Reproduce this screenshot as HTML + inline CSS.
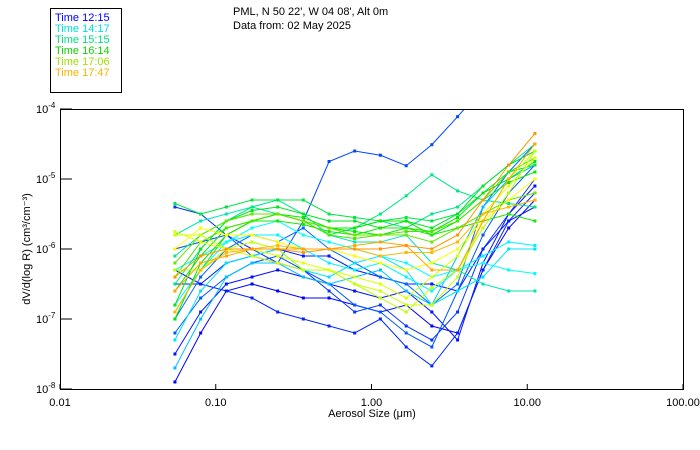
<!DOCTYPE html>
<html><head><meta charset="utf-8"><style>
body{margin:0;background:#fff;}
svg{display:block;font-family:"Liberation Sans","DejaVu Sans",sans-serif;}
</style></head><body>
<svg id="chart" width="700" height="450" viewBox="0 0 700 450">
<rect x="0" y="0" width="700" height="450" fill="#fff"/>
<g>
<rect x="50.5" y="8.5" width="71" height="84" fill="none" stroke="#000" stroke-width="1"/>
<text x="55" y="21" font-size="11" fill="#0000ff">Time 12:15</text>
<text x="55" y="32" font-size="11" fill="#00e0e0">Time 14:17</text>
<text x="55" y="43" font-size="11" fill="#00e080">Time 15:15</text>
<text x="55" y="54" font-size="11" fill="#10d000">Time 16:14</text>
<text x="55" y="65" font-size="11" fill="#a0e000">Time 17:06</text>
<text x="55" y="76" font-size="11" fill="#ffb000">Time 17:47</text>
</g>
<text x="233" y="15" font-size="11" fill="#000">PML, N 50 22', W 04 08', Alt 0m</text>
<text x="233" y="29" font-size="11" fill="#000">Data from: 02 May 2025</text>
<g id="plot"></g>
<rect x="60.5" y="109.5" width="623" height="280" fill="none" stroke="#000" stroke-width="1"/>
<g id="axes"></g>
<text x="372" y="417" font-size="11" text-anchor="middle" fill="#000">Aerosol Size (μm)</text>
<text transform="translate(30,249) rotate(-90)" font-size="11" text-anchor="middle" fill="#000">dV/d(log R) (cm³/cm⁻³)</text>
</svg>
<script>
const sizes=[0.0547,0.080,0.117,0.171,0.250,0.365,0.534,0.78,1.14,1.67,2.44,3.57,5.2,7.6,11.2];
const xTicks=[0.01,0.1,1,10,100];
const xTickLabels=["0.01","0.10","1.00","10.00","100.00"];
const yTickExps=[-4,-5,-6,-7,-8];
// fraction of the day's time range (0 = 12:15 blue, 1 = 17:47 orange)
const timeFrac=[0.0,0.02,0.08,0.04,0.06,0.03,0.1,0.12,0.22,0.26,0.28,0.3,0.36,0.4,0.42,0.5,0.55,0.58,0.6,0.62,0.68,0.72,0.82,0.8,0.84,0.88,0.96,0.98,1.0];
// log10 of dV/dlogR for each series
const series=[
[-7.9,-7.2,-6.6,-6.5,-6.6,-6.7,-6.7,-6.8,-6.9,-6.8,-7.1,-7.2,-6.3,-5.7,-5.3],
[-7.5,-6.9,-6.5,-6.4,-6.3,-6.4,-6.5,-6.6,-6.7,-6.6,-6.9,-7.3,-6.2,-5.5,-5.1],
[-6.0,-5.9,-5.8,-6.1,-6.2,-5.6,-4.75,-4.6,-4.66,-4.81,-4.51,-4.11,-3.7,-3.5,-3.4],
[-6.3,-6.5,-6.6,-6.7,-6.9,-7.0,-7.1,-7.2,-7.0,-7.4,-7.67,-7.2,-6.3,-5.6,-5.2],
[-5.4,-5.5,-5.8,-6.0,-6.2,-6.3,-6.6,-6.9,-6.8,-7.1,-7.3,-6.9,-6.0,-5.5,-5.0],
[-6.5,-6.5,-6.2,-6.1,-6.0,-6.1,-6.1,-6.3,-6.4,-6.5,-6.5,-6.6,-6.0,-5.6,-5.4],
[-7.2,-6.7,-6.4,-6.2,-6.1,-6.3,-6.5,-6.8,-6.9,-7.2,-7.4,-6.6,-5.8,-5.2,-4.8],
[-7.0,-6.4,-6.0,-5.8,-5.9,-5.7,-6.0,-6.2,-6.4,-6.5,-6.8,-6.5,-5.4,-4.9,-4.5],
[-7.7,-7.0,-6.4,-6.2,-6.2,-6.4,-6.5,-6.4,-6.3,-6.6,-6.8,-6.1,-5.4,-5.0,-4.8],
[-7.3,-6.6,-6.2,-6.1,-6.0,-6.3,-6.4,-6.2,-6.1,-6.3,-6.8,-6.6,-6.4,-6.0,-6.0],
[-6.8,-6.3,-5.9,-5.8,-5.8,-6.0,-6.2,-6.3,-6.2,-6.4,-6.6,-6.3,-6.1,-5.9,-5.95],
[-6.3,-6.1,-5.9,-5.7,-5.6,-5.8,-5.9,-6.0,-6.1,-6.2,-6.4,-6.3,-6.2,-6.3,-6.35],
[-5.8,-5.6,-5.5,-5.4,-5.5,-5.6,-5.8,-5.9,-5.9,-5.8,-6.2,-6.3,-6.5,-6.6,-6.6],
[-6.1,-5.8,-5.6,-5.5,-5.5,-5.6,-5.7,-5.7,-5.6,-5.7,-5.5,-5.4,-5.1,-4.8,-4.5],
[-6.5,-6.0,-5.6,-5.4,-5.3,-5.5,-5.8,-5.7,-5.5,-5.24,-4.94,-5.17,-5.3,-5.35,-5.4],
[-5.35,-5.5,-5.4,-5.3,-5.3,-5.3,-5.5,-5.55,-5.6,-5.55,-5.6,-5.5,-5.2,-4.9,-4.8],
[-6.8,-6.0,-5.6,-5.45,-5.4,-5.5,-5.6,-5.6,-5.7,-5.6,-5.7,-5.5,-5.1,-4.8,-4.6],
[-7.0,-6.2,-5.8,-5.6,-5.5,-5.6,-5.7,-5.75,-5.8,-5.7,-5.75,-5.55,-5.2,-5.0,-4.75],
[-6.6,-6.1,-5.7,-5.6,-5.5,-5.55,-5.7,-5.7,-5.6,-5.6,-5.8,-5.6,-5.3,-5.05,-4.9],
[-6.9,-6.3,-5.8,-5.6,-5.6,-5.65,-5.75,-5.8,-5.7,-5.7,-5.8,-5.7,-5.6,-5.5,-5.6],
[-6.4,-5.9,-5.7,-5.6,-5.5,-5.6,-5.8,-5.85,-5.8,-5.75,-5.75,-5.6,-5.3,-4.9,-4.7],
[-6.2,-5.8,-5.6,-5.5,-5.5,-5.6,-5.7,-5.8,-5.8,-5.8,-5.9,-5.7,-5.5,-5.3,-5.2],
[-5.8,-5.8,-6.0,-6.1,-6.2,-6.3,-6.3,-6.5,-6.6,-6.8,-6.8,-6.4,-5.6,-5.0,-4.6],
[-6.3,-6.3,-6.0,-5.9,-6.0,-6.3,-6.3,-6.5,-6.7,-6.9,-6.55,-6.3,-5.7,-5.2,-4.6],
[-5.75,-5.9,-6.0,-6.0,-6.1,-6.2,-6.3,-6.4,-6.5,-6.7,-6.4,-6.1,-5.5,-5.1,-4.7],
[-6.0,-5.7,-5.8,-5.8,-5.9,-6.0,-6.0,-6.1,-6.2,-6.3,-6.2,-6.0,-5.6,-5.3,-5.0],
[-6.9,-6.3,-6.05,-6.0,-5.95,-6.0,-6.0,-6.0,-6.1,-6.05,-6.05,-5.9,-5.5,-5.4,-5.3],
[-6.6,-6.2,-6.1,-6.0,-6.0,-6.0,-6.0,-5.95,-5.9,-5.95,-6.3,-6.3,-5.6,-5.0,-4.5],
[-6.4,-6.1,-6.0,-6.0,-6.0,-6.05,-6.0,-6.0,-6.0,-5.95,-6.0,-5.8,-5.3,-4.8,-4.35]
];
const NS="http://www.w3.org/2000/svg";
const L=60,R=683,T=109,B=389;
function xs(v){return L+(Math.log10(v)+2)/4*(R-L);}
function ys(e){return T+(-4-e)/4*(B-T);}
function colorFor(f){return "hsl("+(240-f*205)+",100%,"+(f>0.3&&f<0.8?45:50)+"%)";}
const plot=document.getElementById('plot');
const defs=document.createElementNS(NS,'defs');
defs.innerHTML='<clipPath id="clip"><rect x="60" y="109" width="624" height="281"/></clipPath>';
document.getElementById('chart').prepend(defs);
plot.setAttribute('clip-path','url(#clip)');
series.forEach((s,i)=>{
  const g=document.createElementNS(NS,'g');
  
  
  const c=colorFor(timeFrac[i]);
  const pts=s.map((e,j)=>xs(sizes[j]).toFixed(1)+","+ys(e).toFixed(1)).join(" ");
  const pl=document.createElementNS(NS,'polyline');
  pl.setAttribute('points',pts);
  pl.setAttribute('fill','none');
  pl.setAttribute('stroke',c);
  pl.setAttribute('stroke-width','1');
  
  
  g.appendChild(pl);
  s.forEach((e,j)=>{
    const r=document.createElementNS(NS,'rect');
    r.setAttribute('x',xs(sizes[j])-1.5);
    r.setAttribute('y',ys(e)-1.5);
    r.setAttribute('width',3);r.setAttribute('height',3);
    r.setAttribute('fill',c);
    
    
    g.appendChild(r);
  });
  plot.appendChild(g);
});
const axes=document.getElementById('axes');
xTicks.forEach((v,i)=>{
  const x=xs(v);
  const t=document.createElementNS(NS,'line');
  t.setAttribute('x1',x);t.setAttribute('x2',x);t.setAttribute('y1',B);t.setAttribute('y2',B-5);
  t.setAttribute('stroke','#000');
  
  
  axes.appendChild(t);
  const lb=document.createElementNS(NS,'text');
  lb.setAttribute('x',x);lb.setAttribute('y',B+17);
  lb.setAttribute('font-size','11');lb.setAttribute('text-anchor','middle');
  lb.textContent=xTickLabels[i];
  
  
  axes.appendChild(lb);
});
yTickExps.forEach(e=>{
  const y=ys(e);
  const t=document.createElementNS(NS,'line');
  t.setAttribute('x1',L);t.setAttribute('x2',L+12);t.setAttribute('y1',y);t.setAttribute('y2',y);
  t.setAttribute('stroke','#000');
  
  
  axes.appendChild(t);
  const lb=document.createElementNS(NS,'text');
  lb.setAttribute('x',36);lb.setAttribute('y',y+4);
  lb.setAttribute('font-size','11');
  lb.innerHTML='10<tspan font-size="8" dy="-5">'+e+'</tspan>';
  
  
  axes.appendChild(lb);
});
</script>
</body></html>
